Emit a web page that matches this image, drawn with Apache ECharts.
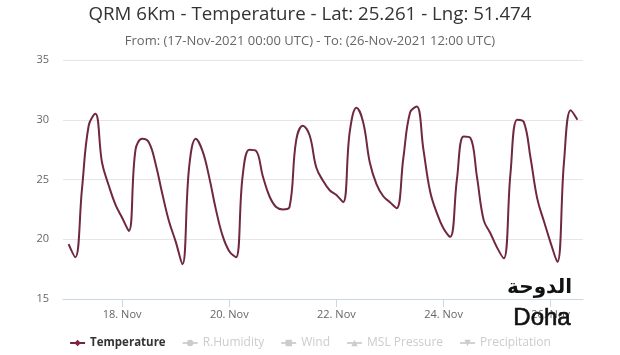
<!DOCTYPE html>
<html>
<head>
<meta charset="utf-8">
<script src="https://cdn.jsdelivr.net/npm/echarts@6/dist/echarts.min.js"></script>
<style>
html,body{margin:0;padding:0;background:#fff;}
#chart{width:620px;height:355px;}
</style>
</head>
<body>
<div id="chart"></div>
<script>
// ---- data ----
const titleText = 'QRM 6Km - Temperature - Lat: 25.261 - Lng: 51.474';
const subtitleText = 'From: (17-Nov-2021 00:00 UTC) - To: (26-Nov-2021 12:00 UTC)';
const startTime = '2021-11-17T00:00:00Z';
const stepHours = 3;
// temperature (°C), every 3 hours from 17-Nov-2021 00:00 UTC
const temperature = [
  19.6, 18.5, 24.2, 29.5, 30.5, 26.4, 24.5, 22.9,
  21.8, 20.7, 27.5, 28.4, 28.1, 26.3, 23.8, 21.5,
  19.8, 17.9, 26.0, 28.4, 27.4, 25.2, 22.5, 20.3,
  19.0, 18.5, 25.3, 27.5, 27.4, 25.3, 23.6, 22.7,
  22.5, 22.7, 28.3, 29.5, 28.7, 26.0, 24.9, 24.1,
  23.7, 23.1, 29.0, 31.0, 29.8, 26.4, 24.6, 23.6,
  23.1, 22.6, 26.8, 30.6, 31.1, 27.5, 24.0, 22.2,
  20.9, 20.2, 25.0, 28.6, 28.5, 25.2, 21.6, 20.5,
  19.3, 18.4, 25.5, 30.0, 29.8, 26.8, 23.4, 21.5,
  19.7, 18.1, 26.5, 30.8, 30.0
];
const seriesNames = ['Temperature', 'R.Humidity', 'Wind', 'MSL Pressure', 'Precipitation'];
const tickDates = ['2021-11-18', '2021-11-20', '2021-11-22', '2021-11-24', '2021-11-26'];
const yTicks = [15, 20, 25, 30, 35];
const cityArabic = 'الدوحة';
const cityLatin = 'Doha';

// ---- build ----
const t0 = Date.parse(startTime);
const H = 3600 * 1000;
const tempData = temperature.map((v, i) => [t0 + i * stepHours * H, v]);
const tickValues = tickDates.map(d => Date.parse(d + 'T00:00:00Z'));
const months = ['Jan','Feb','Mar','Apr','May','Jun','Jul','Aug','Sep','Oct','Nov','Dec'];

const chart = echarts.init(document.getElementById('chart'), null, {renderer: 'canvas'});
const FONT = 'Open Sans';
const symbols = ['diamond', 'circle', 'rect', 'triangle', 'path://M0,0 L10,0 L5,10 Z'];
const colors = ['#702840', '#7cb5ec', '#434348', '#90ed7d', '#f7a35c'];

const series = seriesNames.map((name, i) => ({
  name: name,
  type: 'line',
  data: i === 0 ? tempData : [],
  smooth: 0.4,
  showSymbol: false,
  symbol: symbols[i],
  symbolSize: 8,
  lineStyle: {width: 2, color: colors[i]},
  itemStyle: {color: i === 0 ? '#8a1f40' : colors[i]},
  z: 3
}));

const selected = {};
seriesNames.forEach((n, i) => selected[n] = i === 0);

chart.setOption({
  animation: false,
  backgroundColor: '#fff',
  textStyle: {fontFamily: FONT},
  title: {
    text: titleText,
    subtext: subtitleText,
    left: 'center',
    top: 0,
    itemGap: 11,
    textStyle: {fontSize: 18.7, fontWeight: 'normal', color: '#333', fontFamily: FONT},
    subtextStyle: {fontSize: 13, color: '#666', fontFamily: FONT}
  },
  legend: {
    bottom: 1,
    left: 'center',
    itemGap: 16,
    itemWidth: 15,
    itemHeight: 8,
    selected: selected,
    selectedMode: true,
    inactiveColor: '#cccccc',
    textStyle: {fontSize: 11.5, fontWeight: 'bold', color: '#333', fontFamily: FONT},
    data: seriesNames.map((n, i) => i === 0 ? {name: n} : {name: n, textStyle: {fontWeight: 'normal', fontSize: 12}})
  },
  grid: {left: 63, right: 37, top: 60, bottom: 56},
  xAxis: {
    type: 'value',
    min: t0 - 2.5 * H,
    max: t0 + 230.5 * H,
    axisLine: {show: true, lineStyle: {color: '#ccd6eb', width: 1}},
    axisTick: {show: true, length: 8, lineStyle: {color: '#ccd6eb'}, customValues: tickValues},
    splitLine: {show: false},
    axisLabel: {
      customValues: tickValues,
      color: '#666',
      fontSize: 11,
      fontFamily: FONT,
      margin: 10,
      formatter: function (v) {
        const d = new Date(v);
        return d.getUTCDate() + '. ' + months[d.getUTCMonth()];
      }
    }
  },
  yAxis: {
    type: 'value',
    min: yTicks[0],
    max: yTicks[yTicks.length - 1],
    interval: 5,
    axisLine: {show: false},
    axisTick: {show: false},
    splitLine: {lineStyle: {color: '#e6e6e6', width: 1}},
    axisLabel: {color: '#666', fontSize: 11, fontFamily: FONT, margin: 14}
  },
  graphic: [
    {type: 'text', right: 48, top: 278, z: 100,
     style: {text: cityArabic, font: 'bold 20px "DejaVu Sans"', fill: '#111'}},
    {type: 'text', right: 49, top: 306, z: 100,
     style: {text: cityLatin, font: '24px "Liberation Sans"', fill: '#111', stroke: '#111', lineWidth: 0.6}}
  ],
  series: series
});
</script>
</body>
</html>
